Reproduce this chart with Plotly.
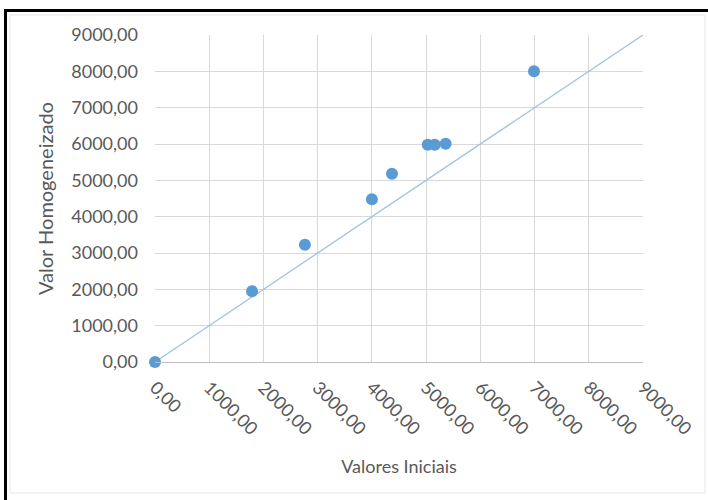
import plotly.graph_objects as go

# Observed values: initial vs. homogenised
valores_iniciais = [0, 1790, 2765, 4000, 4370, 5030, 5160, 5360, 6990]
valor_homogeneizado = [0, 1950, 3230, 4480, 5180, 5980, 5980, 6010, 8000]

# Identity reference line (y = x)
ref_x = [0, 9000]
ref_y = [0, 9000]

tick_vals = [0, 1000, 2000, 3000, 4000, 5000, 6000, 7000, 8000, 9000]

text_color = "#595959"
font_family = "Lato, 'Open Sans', sans-serif"

fig = go.Figure()

fig.add_trace(go.Scatter(
    x=ref_x, y=ref_y, mode="lines",
    line=dict(color="#9DC3E6", width=1.3),
    hoverinfo="skip", showlegend=False, cliponaxis=False,
))

fig.add_trace(go.Scatter(
    x=valores_iniciais, y=valor_homogeneizado, mode="markers",
    marker=dict(color="#5B9BD5", size=12, line=dict(width=0)),
    showlegend=False, cliponaxis=False,
))

W, H = 708, 500
ml, mr, mt, mb = 155, 65, 35, 138
pw, ph = W - ml - mr, H - mt - mb


def px_to_paper_x(px):
    return (px - ml) / pw


def px_to_paper_y(py):
    return (H - mb - py) / ph


shapes = [
    # light inner chart-area border
    dict(type="rect", xref="paper", yref="paper",
         x0=px_to_paper_x(10), x1=px_to_paper_x(705),
         y0=px_to_paper_y(493), y1=px_to_paper_y(15),
         line=dict(color="#E6E6E6", width=1), layer="below"),
    # black frame: top and left edges
    dict(type="line", xref="paper", yref="paper",
         x0=px_to_paper_x(4), x1=px_to_paper_x(710),
         y0=px_to_paper_y(10.5), y1=px_to_paper_y(10.5),
         line=dict(color="#000000", width=3)),
    dict(type="line", xref="paper", yref="paper",
         x0=px_to_paper_x(5.5), x1=px_to_paper_x(5.5),
         y0=px_to_paper_y(9), y1=px_to_paper_y(502),
         line=dict(color="#000000", width=3)),
]

fig.update_layout(
    width=W, height=H,
    margin=dict(l=ml, r=mr, t=mt, b=mb),
    paper_bgcolor="white", plot_bgcolor="white",
    separators=",.",
    font=dict(family=font_family, size=18, color=text_color),
    shapes=shapes,
    xaxis=dict(
        range=[0, 9000], tickvals=tick_vals, tickformat=".2f",
        tickangle=45, showgrid=True, gridcolor="#D9D9D9", gridwidth=1,
        zeroline=False, showline=True, linecolor="#BFBFBF", linewidth=1,
        ticks="", ticklabelstandoff=7,
        tickfont=dict(size=18, color=text_color),
        title=dict(text="Valores Iniciais", font=dict(size=18, color=text_color), standoff=22),
        fixedrange=True,
    ),
    yaxis=dict(
        range=[0, 9000], tickvals=tick_vals, tickformat=".2f",
        showgrid=True, gridcolor="#D9D9D9", gridwidth=1,
        zeroline=False, showline=False, ticks="", ticklabelstandoff=16,
        tickfont=dict(size=18, color=text_color),
        title=dict(text="Valor Homogeneizado", font=dict(size=20, color=text_color), standoff=12),
        fixedrange=True,
    ),
)

fig.write_html("out.html")
